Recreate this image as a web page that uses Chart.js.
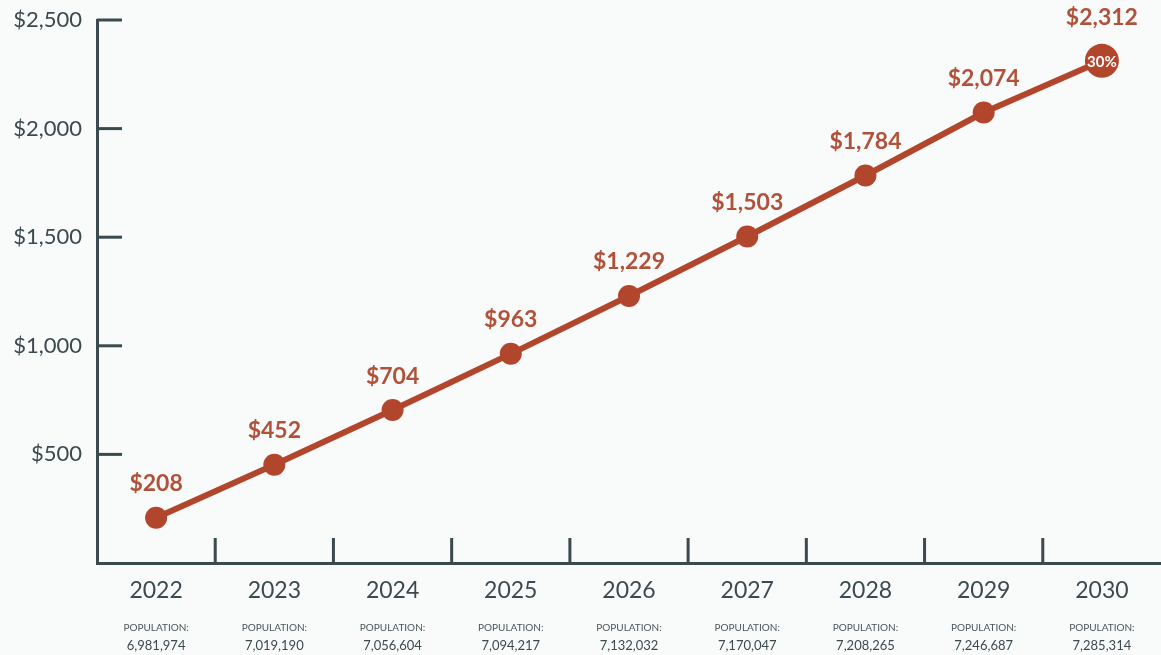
<!DOCTYPE html>
<html>
<head>
<meta charset="utf-8">
<script src="https://cdn.jsdelivr.net/npm/chart.js@4"></script>
<style>
  html, body { margin: 0; padding: 0; background: #f9fafa; overflow: hidden; }
  #wrap { width: 1161px; height: 655px; position: relative; overflow: hidden; }
  canvas { display: block; }
</style>
</head>
<body>
<div id="wrap"><canvas id="spendChart"></canvas></div>
<script>
const years = ["2022", "2023", "2024", "2025", "2026", "2027", "2028", "2029", "2030"];
const population = ["6,981,974", "7,019,190", "7,056,604", "7,094,217", "7,132,032", "7,170,047", "7,208,265", "7,246,687", "7,285,314"];
const spending = [208, 452, 704, 963, 1229, 1503, 1784, 2074, 2312];
const lastBadge = "30%";

const rust = "#b1462d";
const labelRust = "#b0523a";
const slate = "#3b4a4f";
const font = "Lato, 'Open Sans', sans-serif";

function money(v) {
  return "$" + v.toLocaleString("en-US");
}

// x axes: no side padding so the plot runs to the right edge
function fitX(h) {
  return (scale) => {
    scale.height = h;
    scale.paddingLeft = 0;
    scale.paddingRight = 0;
  };
}

// short inward tick marks on both axes
const shortTicks = {
  id: "shortTicks",
  afterDraw(chart) {
    const ctx = chart.ctx;
    const area = chart.chartArea;
    const x = chart.scales.x;
    const y = chart.scales.y;
    ctx.save();
    ctx.strokeStyle = slate;
    ctx.lineWidth = 3;
    y.ticks.forEach((t) => {
      if (t.value === 0) return;
      const py = y.getPixelForValue(t.value);
      ctx.beginPath();
      ctx.moveTo(area.left, py);
      ctx.lineTo(area.left + 25, py);
      ctx.stroke();
    });
    for (let i = 0; i < years.length - 1; i++) {
      const px = (x.getPixelForValue(i) + x.getPixelForValue(i + 1)) / 2;
      ctx.beginPath();
      ctx.moveTo(px, area.bottom);
      ctx.lineTo(px, area.bottom - 25);
      ctx.stroke();
    }
    ctx.restore();
  },
};

// value labels above points, badge in the last point
const valueLabels = {
  id: "valueLabels",
  afterDatasetsDraw(chart) {
    const ctx = chart.ctx;
    const meta = chart.getDatasetMeta(0);
    ctx.save();
    ctx.textAlign = "center";
    ctx.textBaseline = "middle";
    meta.data.forEach((pt, i) => {
      const last = i === meta.data.length - 1;
      ctx.fillStyle = labelRust;
      ctx.font = "bold 23px " + font;
      ctx.fillText(money(spending[i]), pt.x, pt.y - (last ? 43 : 34));
      if (last) {
        ctx.fillStyle = "#ffffff";
        ctx.font = "bold 15px " + font;
        ctx.fillText(lastBadge, pt.x, pt.y + 1);
      }
    });
    ctx.restore();
  },
};

const data = {
  labels: years,
  datasets: [
    {
      data: spending,
      borderColor: rust,
      backgroundColor: rust,
      borderWidth: 6,
      pointRadius: spending.map((v, i) => (i === spending.length - 1 ? 17 : 11)),
      pointBackgroundColor: rust,
      pointBorderWidth: 0,
      tension: 0,
      clip: false,
    },
  ],
};

const config = {
  type: "line",
  data: data,
  options: {
    responsive: true,
    maintainAspectRatio: false,
    animation: false,
    layout: {
      autoPadding: false,
      padding: { top: 20, right: 0, left: 0, bottom: 0 },
    },
    plugins: {
      legend: { display: false },
      tooltip: { enabled: false },
    },
    scales: {
      x: {
        offset: true,
        grid: { display: false, drawTicks: false },
        border: { display: true, color: slate, width: 3 },
        ticks: {
          color: slate,
          font: { family: font, size: 23 },
          padding: 14,
          maxRotation: 0,
        },
        afterFit: fitX(52),
      },
      x2: {
        type: "category",
        position: "bottom",
        labels: years.map(() => "POPULATION:"),
        offset: true,
        grid: { display: false, drawTicks: false },
        border: { display: false },
        ticks: {
          color: "#4a575b",
          font: { family: font, size: 10 },
          padding: 7,
          maxRotation: 0,
        },
        afterFit: fitX(21),
      },
      x3: {
        type: "category",
        position: "bottom",
        labels: population,
        offset: true,
        grid: { display: false, drawTicks: false },
        border: { display: false },
        ticks: {
          color: slate,
          font: { family: font, size: 13 },
          padding: 2,
          maxRotation: 0,
        },
        afterFit: fitX(19),
      },
      y: {
        min: 0,
        max: 2500,
        grid: { display: false, drawTicks: false },
        border: { display: true, color: slate, width: 3 },
        ticks: {
          stepSize: 500,
          color: slate,
          font: { family: font, size: 22 },
          padding: 15,
          callback: (v) => (v === 0 ? "" : money(v)),
        },
        afterFit: (scale) => {
          scale.width = 97;
          scale.paddingTop = 0;
          scale.paddingBottom = 0;
        },
      },
    },
  },
  plugins: [shortTicks, valueLabels],
};

const spendChart = new Chart(document.getElementById("spendChart"), config);
</script>
</body>
</html>
